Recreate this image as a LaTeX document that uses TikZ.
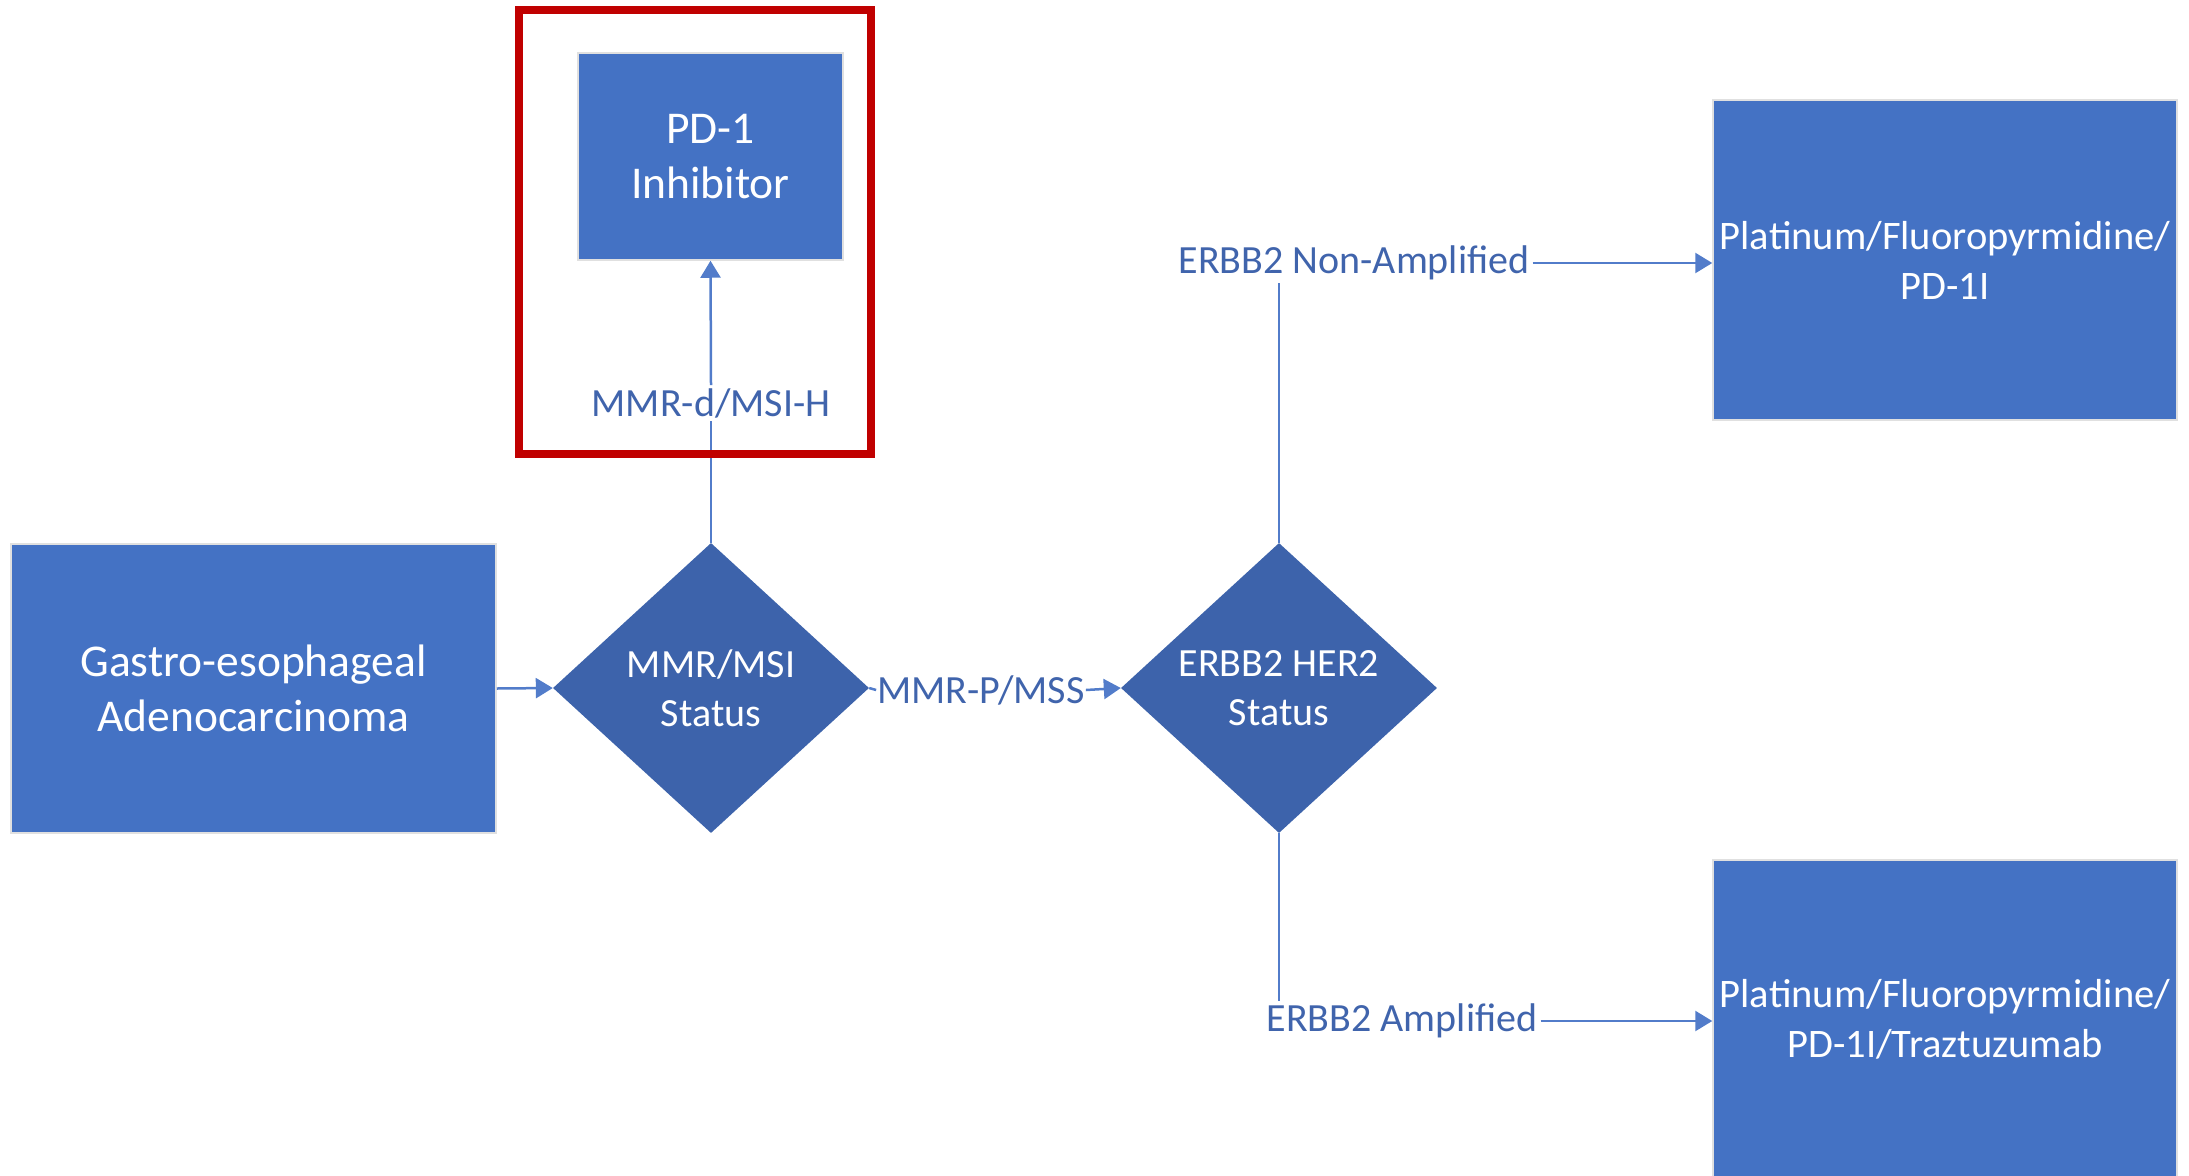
\documentclass[tikz,border=0pt]{standalone}
\usepackage{fontspec}
\setmainfont{Carlito}
\usetikzlibrary{shapes.geometric,arrows.meta}
\definecolor{boxblue}{RGB}{68,114,196}
\definecolor{decblue}{RGB}{61,99,171}
\definecolor{lineblue}{RGB}{82,124,202}
\definecolor{txtblue}{RGB}{64,100,172}
\definecolor{markred}{RGB}{192,0,0}
\begin{document}
\begin{tikzpicture}
      [%%%%%%%%%%%%%%%%%%%%%%%%%%%%%%
          x=1pt, y=-1pt,
          box/.style={rectangle, fill=boxblue, draw=black!12, line width=1.5pt,
            text=white, align=center, inner sep=0pt,
            font=\fontsize{45.5}{55.5}\selectfont},
          decision/.style={diamond, aspect=1.09, fill=decblue, text=white,
            align=center, inner sep=0pt, minimum width=316pt, minimum height=290pt,
            font=\fontsize{40}{49}\selectfont},
          lbl/.style={text=txtblue, inner sep=3pt, font=\fontsize{40}{49}\selectfont},
          link/.style={draw=lineblue, line width=2.5pt},
          arr/.style={link, -{Triangle[length=17pt,width=20pt]}}
      ]%%%%%%%%%%%%%%%%%%%%%%%%%%%%%%

  \useasboundingbox (0,0) rectangle (2189,1175);

  \node[box, minimum width=485pt, minimum height=289pt] (gastro) at (253.5,688.5) {Gastro-esophageal\\Adenocarcinoma};
  \node[decision] (mmr) at (711,688) {MMR/MSI\\Status};
  \node[decision] (erbb) at (1279,688) {ERBB2 HER2\\Status};
  \node[box, minimum width=265pt, minimum height=207pt] (pdone) at (710.5,156.5) {PD-1\\Inhibitor};
  \node[box, minimum width=464pt, minimum height=320pt, font=\fontsize{40.5}{50}\selectfont]
    (chemo) at (1945,260) {Platinum/Fluoropyrmidine/\\PD-1I};
  \node[box, minimum width=464pt, minimum height=318pt, font=\fontsize{40.5}{50}\selectfont]
    (chemotrz) at (1945,1019) {Platinum/Fluoropyrmidine/\\PD-1I/Traztuzumab};

  \node[lbl] (msih) at (711,403) {MMR-d/MSI-H};
  \node[lbl, inner sep=1pt] (mss) at (981,690) {MMR-P/MSS};
  \node[lbl] (nonamp) at (1354,263) {ERBB2 Non-Amplified};
  \node[lbl] (amp) at (1402,1021) {ERBB2 Amplified};

  \draw[arr] (gastro.east) -- (mmr.west);
  \draw[link] (mmr.north) -- (msih.south);
  \draw[arr] (msih.north) -- (pdone.south);
  \draw[link] (mmr.east) -- (mss.west);
  \draw[arr] (mss.east) -- (erbb.west);
  \draw[link] (erbb.north) -- (erbb.north |- nonamp.south);
  \draw[arr] (nonamp.east) -- (nonamp.east -| chemo.west);
  \draw[link] (erbb.south) -- (erbb.south |- amp.north);
  \draw[arr] (amp.east) -- (amp.east -| chemotrz.west);

  \draw[markred, line width=8pt] (519,10) rectangle (871,454);

  \end{tikzpicture}
\end{document}
